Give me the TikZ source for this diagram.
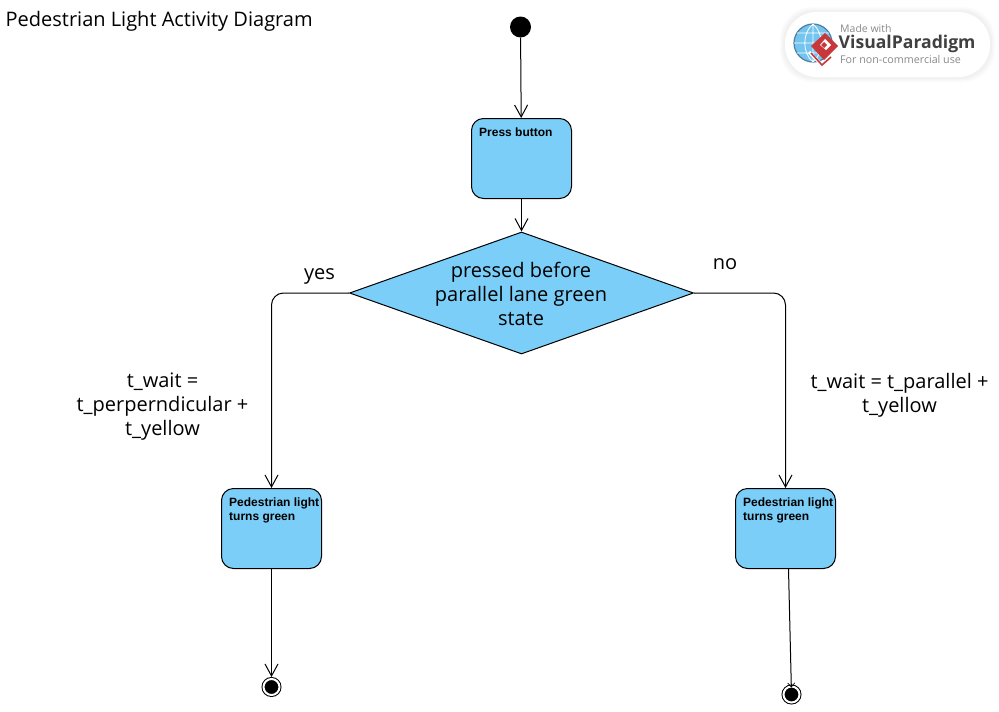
\documentclass[tikz,border=0pt]{standalone}
\usepackage{fontspec}
\setmainfont{Open Sans}
\newfontfamily\boxfont{Liberation Sans}
\usetikzlibrary{arrows.meta}
\usetikzlibrary{shapes.geometric}
\definecolor{boxblue}{HTML}{7BCEF7}
\definecolor{logored}{HTML}{C8383A}
\definecolor{logogrey}{HTML}{8A8A8A}
\definecolor{logoblue}{HTML}{74C4F0}
\definecolor{logoring}{HTML}{4F7F9C}
\tikzset{
    flow/.style={
        line width=1pt,
        -{Straight Barb[length=12pt,width=13pt,line width=1pt]}
    },
    actionbox/.style={
        draw,
        line width=1pt,
        fill=boxblue,
        rounded corners=12pt,
        minimum width=100pt,
        minimum height=80pt,
        inner sep=0pt,
        label={[anchor=north west,inner sep=0pt,xshift=8pt,yshift=-10pt,
            align=left,font=\boxfont\bfseries\fontsize{12}{14}\selectfont]north west:#1}
    },
    decision/.style={
        draw,
        diamond,
        line width=1pt,
        fill=boxblue,
        aspect=2.82,
        inner sep=0pt,
        minimum width=344pt,
        minimum height=122pt
    },
    plain text/.style={
        inner sep=0pt,
        align=center,
        font=\fontsize{20}{24}\selectfont
    },
    start dot/.style={
        circle,
        fill=black,
        inner sep=0pt,
        minimum size=21pt
    },
    final dot/.style={
        circle,
        draw,
        fill=black,
        double=white,
        double distance=2pt,
        line width=1pt,
        inner sep=0pt,
        minimum size=16pt
    }
}
\begin{document}
\begin{tikzpicture}[x=1pt,y=-1pt]
    \useasboundingbox (0,0) rectangle (999,712);

    \node[plain text,anchor=west] (title) at (5.5,21) {Pedestrian Light Activity Diagram};

    \node[start dot] (start) at (520.5,27) {};
    \node[actionbox={Press button}] (press) at (521.5,158.5) {};
    \node[decision,label={[plain text,xshift=-.5pt,yshift=-.5pt]center:pressed before\\parallel lane green\\state}] (pressed) at (521.5,293) {};
    \node[actionbox={Pedestrian light\\turns green}] (greenyes) at (271.5,528.5) {};
    \node[actionbox={Pedestrian light\\turns green}] (greenno) at (785.5,528.5) {};
    \node[final dot] (endyes) at (271.5,687) {};
    \node[final dot] (endno) at (791.5,694.5) {};

    \draw[flow] (start) -- (press);
    \draw[flow] (press) -- (pressed);
    \draw[flow,rounded corners=12pt] (pressed.west) -| (greenyes.north);
    \draw[flow,rounded corners=12pt] (pressed.east) -| (greenno.north);
    \draw[flow,shorten >=1.5pt] (greenyes) -- (endyes);
    \draw[line width=1pt,-{Straight Barb[length=4pt,width=7pt,line width=.7pt]},shorten >=-1.5pt] ([xshift=3pt]greenno.south) -- (endno);

    \node[plain text] (yes) at (319.5,276) {yes};
    \node[plain text] (no) at (725,264.5) {no};
    \node[plain text] (waityes) at (162.5,407) {t\_wait =\\t\_perperndicular +\\t\_yellow};
    \node[plain text] (waitno) at (899.5,395.5) {t\_wait = t\_parallel +\\t\_yellow};

    % logo
    \foreach \s/\o in {5/0.015,3.5/0.02,2/0.02}
      \fill[black,opacity=\o,rounded corners=32pt] (785-\s,12-\s) rectangle (990+\s,77+\s);
    \fill[white,rounded corners=32pt] (785,12) rectangle (990,77);
    \fill[logoblue] (813,43) circle (19);
    \draw[logoring,line width=1.2pt] (813,43) circle (19);
    \draw[white,line width=.8pt] (794,43) -- (832,43) (797,33) -- (829,33) (797,53) -- (829,53)
      (813,24) -- (813,62) (813,24) .. controls (802,33) and (802,53) .. (813,62)
      (813,24) .. controls (824,33) and (824,53) .. (813,62);
    \draw[white,line width=3pt,line join=round] (809,52) -- (822,65) -- (836,52);
    \fill[logored] (825,33) -- (838,46) -- (824,60) -- (811,46) -- cycle;
    \fill[white] (825,39) -- (831,45) -- (826,50) -- (820,45) -- cycle;
    \fill[logored] (824,42) -- (827,45) -- (824,48) -- (821,45) -- cycle;
    \draw[logored,line width=1.6pt] (811,53) -- (822,65) -- (831,57);
    \node[anchor=west,inner sep=0pt,text=logogrey,font=\fontsize{10.5}{12}\selectfont] (made) at (840,28.5) {Made with};
    \node[anchor=west,inner sep=0pt,text=black!75,font=\bfseries\fontsize{17.6}{20}\selectfont] (brand) at (838.5,44) {VisualParadigm};
    \node[anchor=west,inner sep=0pt,text=logogrey,font=\fontsize{10.7}{12}\selectfont] (use) at (840,59) {For non-commercial use};
\end{tikzpicture}
\end{document}
